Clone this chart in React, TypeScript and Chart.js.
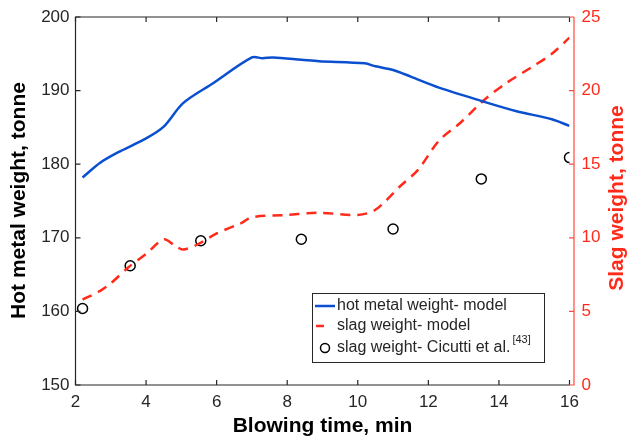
import React, { useEffect, useRef } from "react";
import { Chart, registerables } from "chart.js";

Chart.register(...registerables);

const hmTime = [2.2, 2.7, 3.2, 4.0, 4.5, 5.05, 5.9, 7.0, 7.3, 7.6, 8.4, 8.9, 10.2, 10.5, 11.0, 11.5, 12.3, 13.5, 14.5, 15.5, 16.0];
const hmWeight = [178.2, 180.2, 181.6, 183.5, 185.1, 188.3, 191.0, 194.5, 194.4, 194.5, 194.2, 194.0, 193.7, 193.3, 192.8, 191.9, 190.4, 188.6, 187.2, 186.1, 185.2];

const slagTime = [2.2, 2.7, 3.0, 3.5, 4.0, 4.5, 4.8, 5.05, 5.5, 6.0, 6.7, 7.0, 8.0, 8.9, 10.0, 10.5, 11.2, 11.7, 12.3, 12.9, 13.6, 14.2, 15.0, 15.5, 16.0];
const slagWeight = [5.8, 6.4, 6.9, 8.0, 8.9, 9.9, 9.5, 9.2, 9.6, 10.3, 11.0, 11.4, 11.55, 11.7, 11.55, 11.9, 13.5, 14.6, 16.6, 17.8, 19.4, 20.5, 21.7, 22.5, 23.6];

const expTime = [2.2, 3.55, 5.55, 8.4, 11.0, 13.5, 16.0];
const expSlag = [5.2, 8.1, 9.8, 9.9, 10.6, 14.0, 15.45];

const xTicks = [2, 4, 6, 8, 10, 12, 14, 16];
const leftTicks = [150, 160, 170, 180, 190, 200];
const rightTicks = [0, 5, 10, 15, 20, 25];

const labels = ["hot metal weight- model", "slag weight- model", "slag weight- Cicutti et al."];
const refMark = "[43]";

const BLUE = "#0a4fcf";
const RED = "#ff2a1a";
const AXIS_RED = "#ff4a3c";
const DARK = "#262626";
const FONT = "'Liberation Sans', Arial, Helvetica, sans-serif";

const decorPlugin = {
  id: "decor",
  afterDraw(chart: any) {
    const ctx = chart.ctx;
    const { left, right, top, bottom } = chart.chartArea;
    const xs = chart.scales.x;
    const yl = chart.scales.y;
    const yr = chart.scales.y2;
    const rx = right + 4.5;
    ctx.save();
    ctx.strokeStyle = DARK;
    ctx.lineWidth = 1.2;
    ctx.beginPath();
    ctx.moveTo(right, top);
    ctx.lineTo(left, top);
    ctx.lineTo(left, bottom);
    ctx.lineTo(right, bottom);
    ctx.stroke();
    ctx.beginPath();
    xTicks.forEach((v) => {
      const px = xs.getPixelForValue(v);
      ctx.moveTo(px, bottom);
      ctx.lineTo(px, bottom - 5);
      ctx.moveTo(px, top);
      ctx.lineTo(px, top + 5);
    });
    leftTicks.forEach((v) => {
      const py = yl.getPixelForValue(v);
      ctx.moveTo(left, py);
      ctx.lineTo(left + 5, py);
    });
    ctx.stroke();
    ctx.strokeStyle = AXIS_RED;
    ctx.beginPath();
    ctx.moveTo(right, bottom);
    ctx.lineTo(rx, bottom);
    ctx.lineTo(rx, top);
    rightTicks.forEach((v) => {
      const py = yr.getPixelForValue(v);
      ctx.moveTo(rx, py);
      ctx.lineTo(rx - 5, py);
    });
    ctx.stroke();

    ctx.fillStyle = "#000";
    ctx.font = `bold 21px ${FONT}`;
    ctx.textAlign = "center";
    ctx.textBaseline = "alphabetic";
    ctx.fillText("Blowing time, min", (left + right) / 2, 432);
    ctx.save();
    ctx.translate(25, 200.5);
    ctx.rotate(-Math.PI / 2);
    ctx.fillText("Hot metal weight, tonne", 0, 0);
    ctx.restore();
    ctx.save();
    ctx.fillStyle = RED;
    ctx.translate(623, 198);
    ctx.rotate(-Math.PI / 2);
    ctx.fillText("Slag weight, tonne", 0, 0);
    ctx.restore();

    const lx = 312, ly = 293, lw = 232, lh = 69;
    ctx.fillStyle = "#fff";
    ctx.fillRect(lx, ly, lw, lh);
    ctx.strokeStyle = DARK;
    ctx.lineWidth = 1;
    ctx.strokeRect(lx + 0.5, ly + 0.5, lw, lh);
    const rows = [306, 326, 348];
    ctx.lineWidth = 2.5;
    ctx.strokeStyle = BLUE;
    ctx.beginPath();
    ctx.moveTo(315, rows[0]);
    ctx.lineTo(335, rows[0]);
    ctx.stroke();
    ctx.strokeStyle = RED;
    ctx.beginPath();
    ctx.moveTo(316, rows[1]);
    ctx.lineTo(324, rows[1]);
    ctx.stroke();
    ctx.strokeStyle = "#000";
    ctx.lineWidth = 1.5;
    ctx.beginPath();
    ctx.arc(325, rows[2], 4.5, 0, Math.PI * 2);
    ctx.stroke();
    ctx.fillStyle = DARK;
    ctx.font = `16px ${FONT}`;
    ctx.textAlign = "left";
    ctx.textBaseline = "middle";
    labels.forEach((t, i) => ctx.fillText(t, 337, rows[i]));
    const w = ctx.measureText(labels[2]).width;
    ctx.font = `11px ${FONT}`;
    ctx.fillText(refMark, 337 + w + 2, 340);
    ctx.restore();
  },
};

export default function App() {
  const ref = useRef<HTMLCanvasElement>(null);
  useEffect(() => {
    document.body.style.margin = "0";
    const c = ref.current!;
    const chart = new Chart(c, {
      type: "line",
      data: {
        datasets: [
          {
            label: labels[0],
            data: hmTime.map((t, i) => ({ x: t, y: hmWeight[i] })),
            borderColor: BLUE,
            borderWidth: 2.5,
            pointRadius: 0,
            tension: 0.3,
            yAxisID: "y",
          },
          {
            label: labels[1],
            data: slagTime.map((t, i) => ({ x: t, y: slagWeight[i] })),
            borderColor: RED,
            borderWidth: 2.5,
            borderDash: [10, 7],
            pointRadius: 0,
            tension: 0.3,
            yAxisID: "y2",
          },
          {
            label: labels[2],
            data: expTime.map((t, i) => ({ x: t, y: expSlag[i] })),
            showLine: false,
            borderColor: "#000",
            backgroundColor: "rgba(0,0,0,0)",
            pointRadius: 5,
            pointBorderWidth: 1.5,
            yAxisID: "y2",
          },
        ] as any,
      },
      options: {
        animation: false,
        responsive: false,
        layout: { padding: { top: 17, left: 0, right: 0, bottom: 0 } },
        plugins: { legend: { display: false }, tooltip: { enabled: false } },
        scales: {
          x: {
            type: "linear",
            min: 2,
            max: 16,
            afterBuildTicks: (s: any) => { s.ticks = xTicks.map((v) => ({ value: v })); },
            afterFit: (s: any) => { s.height = 54; s.paddingLeft = 0; s.paddingRight = 0; },
            grid: { display: false, drawTicks: false },
            border: { display: false },
            ticks: { color: DARK, font: { family: FONT, size: 17 }, padding: 7, maxRotation: 0 },
          },
          y: {
            type: "linear",
            position: "left",
            min: 150,
            max: 200,
            afterBuildTicks: (s: any) => { s.ticks = leftTicks.map((v) => ({ value: v })); },
            afterFit: (s: any) => { s.width = 75.5; s.paddingTop = 0; s.paddingBottom = 0; },
            grid: { display: false, drawTicks: false },
            border: { display: false },
            ticks: { color: DARK, font: { family: FONT, size: 17 }, padding: 6 },
          },
          y2: {
            type: "linear",
            position: "right",
            min: 0,
            max: 25,
            afterBuildTicks: (s: any) => { s.ticks = rightTicks.map((v) => ({ value: v })); },
            afterFit: (s: any) => { s.width = 58.5; s.paddingTop = 0; s.paddingBottom = 0; },
            grid: { display: false, drawTicks: false },
            border: { display: false },
            ticks: { color: RED, font: { family: FONT, size: 17 }, padding: 12 },
          },
        },
      } as any,
      plugins: [decorPlugin],
    });
    return () => chart.destroy();
  }, []);
  return (
    <div style={{ width: 628, height: 439 }}>
      <canvas ref={ref} width={628} height={439} />
    </div>
  );
}
